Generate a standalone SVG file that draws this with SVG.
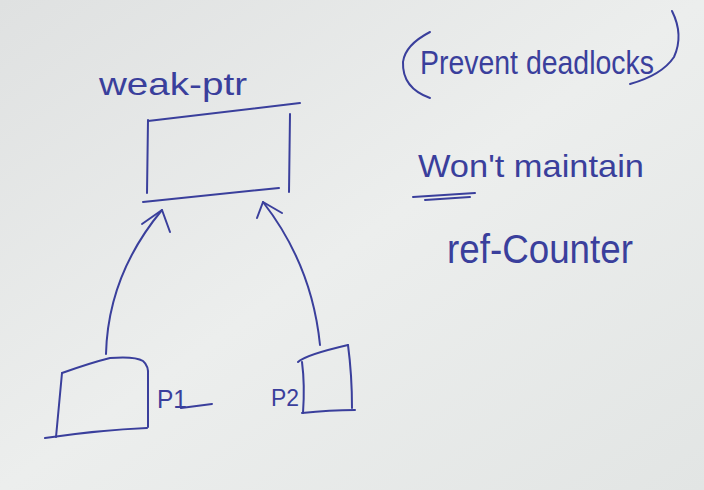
<svg xmlns="http://www.w3.org/2000/svg" width="704" height="490" viewBox="0 0 704 490">
  <defs>
    <linearGradient id="bg" x1="0" y1="0" x2="1" y2="1">
      <stop offset="0" stop-color="#dfe1e1"/>
      <stop offset="0.5" stop-color="#eceeed"/>
      <stop offset="1" stop-color="#e2e5e4"/>
    </linearGradient>
    <style>
      .ink { fill: none; stroke: #3a3f9c; stroke-width: 2; stroke-linecap: round; stroke-linejoin: round; }
      .txt { fill: #3a3f9c; font-family: "Liberation Sans", "DejaVu Sans", sans-serif; }
    </style>
  </defs>
  <rect width="704" height="490" fill="url(#bg)"/>

  <g id="weak-ptr">
    <text class="txt" x="99" y="95" font-size="32" textLength="148" lengthAdjust="spacingAndGlyphs">weak-ptr</text>
    <path class="ink" d="M148 121 L300 103"/>
    <path class="ink" d="M148 120 L147 193"/>
    <path class="ink" d="M290 114 L289 192"/>
    <path class="ink" d="M143 202 L279 188"/>
  </g>

  <g id="p1">
    <path class="ink" d="M62 373 Q90 363 110 358 Q135 356 143 361 Q149 366 148 376 L148 427"/>
    <path class="ink" d="M62 373 L56 437"/>
    <path class="ink" d="M45 438 Q100 430 147 428"/>
    <text class="txt" x="157" y="408" font-size="26" textLength="30" lengthAdjust="spacingAndGlyphs">P1</text>
    <path class="ink" d="M181 408 L212 404"/>
  </g>

  <g id="p2">
    <path class="ink" d="M298 362 Q305 355 348 345"/>
    <path class="ink" d="M348 345 Q352 375 352 408"/>
    <path class="ink" d="M302 362 Q305 385 303 413"/>
    <path class="ink" d="M302 413 Q330 410 355 410"/>
    <text class="txt" x="271" y="406" font-size="24" textLength="28" lengthAdjust="spacingAndGlyphs">P2</text>
  </g>

  <g id="connectors">
    <path class="ink" d="M106 354 Q108 275 162 210"/>
    <path class="ink" d="M142 224 L162 210 L170 232"/>
    <path class="ink" d="M320 345 Q312 265 263 202"/>
    <path class="ink" d="M257 218 L263 202 L282 213"/>
  </g>

  <g id="note-prevent">
    <path class="ink" d="M430 32 Q405 45 403 62 Q402 88 430 98"/>
    <text class="txt" x="420" y="74" font-size="34" textLength="234" lengthAdjust="spacingAndGlyphs">Prevent deadlocks</text>
    <path class="ink" d="M672 11 Q684 35 674 57 Q662 75 630 84"/>
  </g>

  <g id="note-maintain">
    <text class="txt" x="418" y="177" font-size="32" textLength="226" lengthAdjust="spacingAndGlyphs">Won't maintain</text>
    <path class="ink" d="M413 197 L475 193"/>
    <path class="ink" d="M425 200 L470 197"/>
  </g>

  <g id="note-refcounter">
    <text class="txt" x="447" y="263" font-size="40" textLength="186" lengthAdjust="spacingAndGlyphs">ref-Counter</text>
  </g>
</svg>
